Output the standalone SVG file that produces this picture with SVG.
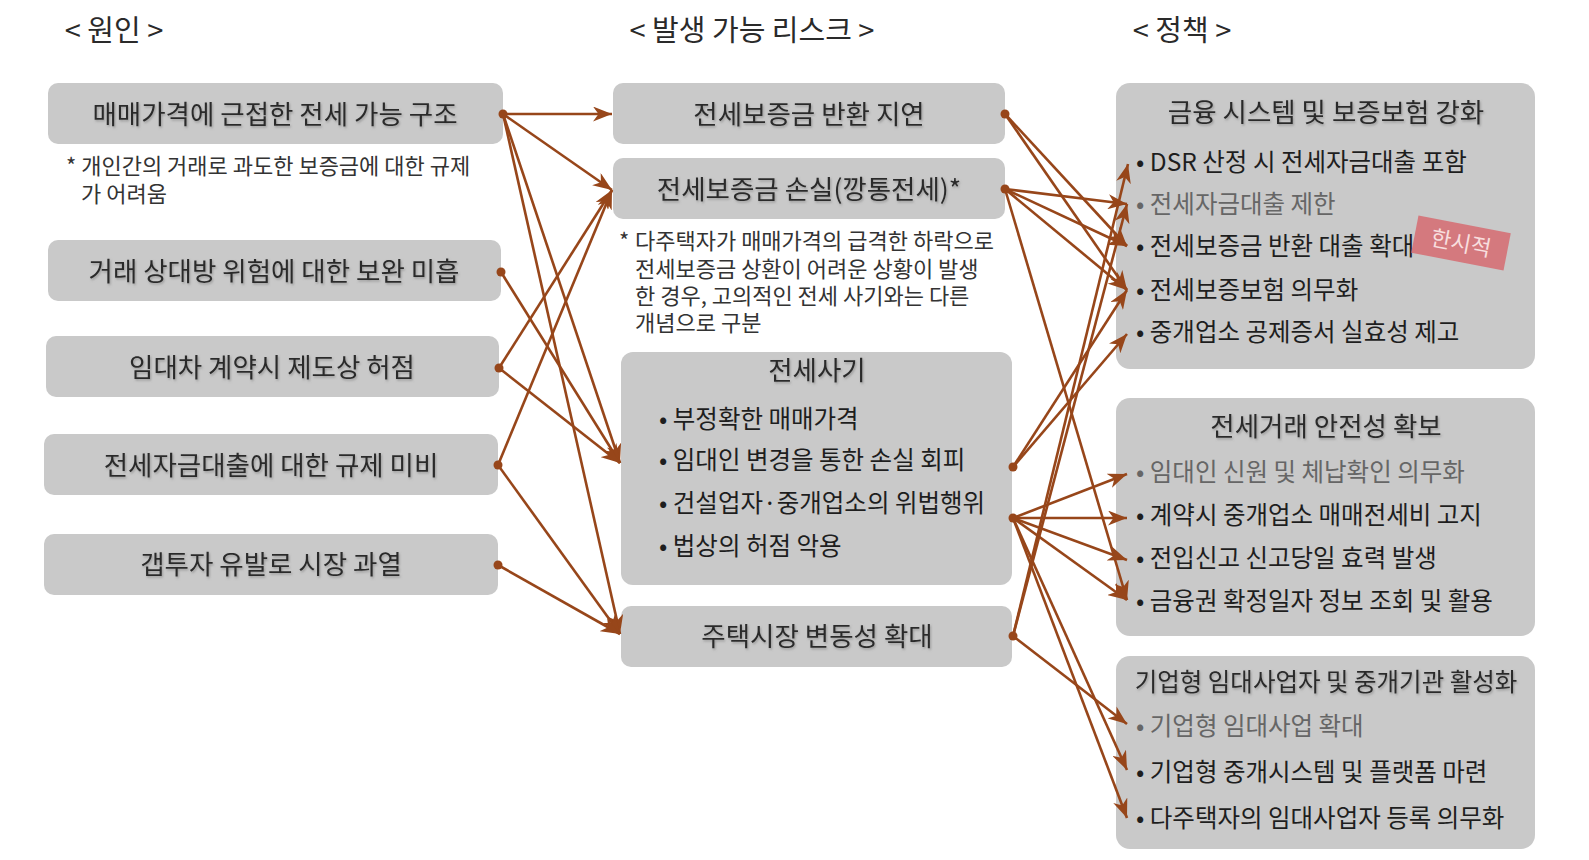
<svg xmlns="http://www.w3.org/2000/svg" width="1589" height="860" viewBox="0 0 1589 860">
<style>
.bg{fill:#ffffff}
.box{fill:#c9c9c9}
.hd{font-family:"Noto Sans CJK KR","Noto Sans",sans-serif;font-size:29px;fill:#2a2a2a;text-anchor:middle}
.bt{font-family:"Noto Sans CJK KR","Noto Sans",sans-serif;font-size:26.5px;fill:#2a2a2a;text-anchor:middle;filter:url(#sh)}
.ti{font-family:"Noto Sans CJK KR","Noto Sans",sans-serif;font-size:26.5px;fill:#2a2a2a;text-anchor:middle;filter:url(#sh)}
.li{font-family:"Noto Sans CJK KR","Noto Sans",sans-serif;font-size:24.5px;fill:#1e1e1e}
.lg{font-family:"Noto Sans CJK KR","Noto Sans",sans-serif;font-size:24.5px;fill:#666}
.nt{font-family:"Noto Sans CJK KR","Noto Sans",sans-serif;font-size:22px;fill:#333}
.cn{stroke:#97461a;stroke-width:2.6;fill:none;marker-end:url(#ah)}
.dt{fill:#97461a}
</style>
<defs>
<marker id="ah" markerUnits="userSpaceOnUse" markerWidth="20" markerHeight="15" refX="19" refY="7.5" orient="auto">
<path d="M0,0 L19,7.5 L0,15 L5.5,7.5 z" fill="#97461a"/>
</marker>
<filter id="sh" x="-5%" y="-20%" width="110%" height="140%">
<feDropShadow dx="1" dy="1.5" stdDeviation="1" flood-color="#777" flood-opacity="0.6"/>
</filter>
</defs>
<rect class="bg" x="0" y="0" width="1589" height="860"/>

<g id="headers">
<text class="hd" x="114" y="41">&lt; 원인 &gt;</text>
<text class="hd" x="752" y="41">&lt; 발생 가능 리스크 &gt;</text>
<text class="hd" x="1182" y="41">&lt; 정책 &gt;</text>
</g>

<g id="cause1">
<rect class="box" x="48" y="83" width="455" height="61" rx="10"/>
<text class="bt" x="275" y="124">매매가격에 근접한 전세 가능 구조</text>
<text class="nt" x="66" y="174">* 개인간의 거래로 과도한 보증금에 대한 규제</text>
<text class="nt" x="81" y="202">가 어려움</text>
</g>
<g id="cause2">
<rect class="box" x="48" y="240" width="453" height="61" rx="10"/>
<text class="bt" x="274" y="281">거래 상대방 위험에 대한 보완 미흡</text>
</g>
<g id="cause3">
<rect class="box" x="46" y="336" width="453" height="61" rx="10"/>
<text class="bt" x="272" y="377">임대차 계약시 제도상 허점</text>
</g>
<g id="cause4">
<rect class="box" x="44" y="434" width="454" height="61" rx="10"/>
<text class="bt" x="271" y="475">전세자금대출에 대한 규제 미비</text>
</g>
<g id="cause5">
<rect class="box" x="44" y="534" width="454" height="61" rx="10"/>
<text class="bt" x="271" y="574">갭투자 유발로 시장 과열</text>
</g>

<g id="riskA">
<rect class="box" x="613" y="83" width="392" height="61" rx="10"/>
<text class="bt" x="809" y="124">전세보증금 반환 지연</text>
</g>
<g id="riskB">
<rect class="box" x="613" y="158" width="392" height="61" rx="10"/>
<text class="bt" x="809" y="199">전세보증금 손실(깡통전세)*</text>
<text class="nt" x="619" y="249">*</text>
<text class="nt" x="635" y="249">다주택자가 매매가격의 급격한 하락으로</text>
<text class="nt" x="635" y="277">전세보증금 상환이 어려운 상황이 발생</text>
<text class="nt" x="635" y="304">한 경우, 고의적인 전세 사기와는 다른</text>
<text class="nt" x="635" y="331">개념으로 구분</text>
</g>
<g id="riskC">
<rect class="box" x="621" y="352" width="391" height="233" rx="12"/>
<text class="bt" x="817" y="380">전세사기</text>
<text class="li" x="659" y="428">• 부정확한 매매가격</text>
<text class="li" x="659" y="469">• 임대인 변경을 통한 손실 회피</text>
<text class="li" x="659" y="512">• 건설업자·중개업소의 위법행위</text>
<text class="li" x="659" y="555">• 법상의 허점 악용</text>
</g>
<g id="riskD">
<rect class="box" x="621" y="606" width="391" height="61" rx="10"/>
<text class="bt" x="817" y="646">주택시장 변동성 확대</text>
</g>

<g id="policy1">
<rect class="box" x="1116" y="83" width="419" height="286" rx="14"/>
<text class="ti" x="1326" y="122">금융 시스템 및 보증보험 강화</text>
<text class="li" x="1136" y="171">• DSR 산정 시 전세자금대출 포함</text>
<text class="lg" x="1136" y="213">• 전세자금대출 제한</text>
<text class="li" x="1136" y="255">• 전세보증금 반환 대출 확대</text>
<text class="li" x="1136" y="299">• 전세보증보험 의무화</text>
<text class="li" x="1136" y="341">• 중개업소 공제증서 실효성 제고</text>
<g transform="translate(1461,243) rotate(11)">
<rect x="-47" y="-19" width="94" height="38" fill="#d4797e"/>
<text x="0" y="8" font-family="'Noto Sans CJK KR',sans-serif" font-size="22" fill="#f8dede" text-anchor="middle">한시적</text>
</g>
</g>
<g id="policy2">
<rect class="box" x="1116" y="398" width="419" height="238" rx="14"/>
<text class="ti" x="1326" y="436">전세거래 안전성 확보</text>
<text class="lg" x="1136" y="481">• 임대인 신원 및 체납확인 의무화</text>
<text class="li" x="1136" y="524">• 계약시 중개업소 매매전세비 고지</text>
<text class="li" x="1136" y="567">• 전입신고 신고당일 효력 발생</text>
<text class="li" x="1136" y="610">• 금융권 확정일자 정보 조회 및 활용</text>
</g>
<g id="policy3">
<rect class="box" x="1116" y="656" width="419" height="193" rx="14"/>
<text class="ti" x="1326" y="691" style="font-size:24.5px">기업형 임대사업자 및 중개기관 활성화</text>
<text class="lg" x="1136" y="735">• 기업형 임대사업 확대</text>
<text class="li" x="1136" y="781">• 기업형 중개시스템 및 플랫폼 마련</text>
<text class="li" x="1136" y="827">• 다주택자의 임대사업자 등록 의무화</text>
</g>

<g id="connectors">
<line class="cn" x1="503" y1="114" x2="612" y2="114"/>
<line class="cn" x1="503" y1="114" x2="612" y2="190"/>
<line class="cn" x1="503" y1="114" x2="620" y2="463"/>
<line class="cn" x1="503" y1="114" x2="620" y2="634"/>
<line class="cn" x1="501" y1="272" x2="620" y2="463"/>
<line class="cn" x1="499" y1="368" x2="612" y2="190"/>
<line class="cn" x1="499" y1="368" x2="620" y2="463"/>
<line class="cn" x1="498" y1="465" x2="612" y2="190"/>
<line class="cn" x1="498" y1="465" x2="620" y2="634"/>
<line class="cn" x1="498" y1="565" x2="620" y2="634"/>

<line class="cn" x1="1005" y1="114" x2="1127" y2="246"/>
<line class="cn" x1="1005" y1="114" x2="1127" y2="290"/>
<line class="cn" x1="1005" y1="189" x2="1127" y2="204"/>
<line class="cn" x1="1005" y1="189" x2="1127" y2="246"/>
<line class="cn" x1="1005" y1="189" x2="1127" y2="290"/>
<line class="cn" x1="1005" y1="189" x2="1127" y2="600"/>
<line class="cn" x1="1013" y1="467" x2="1127" y2="290"/>
<line class="cn" x1="1013" y1="467" x2="1127" y2="334"/>
<line class="cn" x1="1013" y1="518" x2="1127" y2="474"/>
<line class="cn" x1="1013" y1="518" x2="1127" y2="518"/>
<line class="cn" x1="1013" y1="518" x2="1127" y2="560"/>
<line class="cn" x1="1013" y1="518" x2="1127" y2="600"/>
<line class="cn" x1="1013" y1="518" x2="1127" y2="770"/>
<line class="cn" x1="1013" y1="518" x2="1127" y2="818"/>
<line class="cn" x1="1013" y1="636" x2="1128" y2="164"/>
<line class="cn" x1="1013" y1="636" x2="1127" y2="204"/>
<line class="cn" x1="1013" y1="636" x2="1127" y2="724"/>

<circle class="dt" cx="503" cy="114" r="4.5"/>
<circle class="dt" cx="501" cy="272" r="4.5"/>
<circle class="dt" cx="499" cy="368" r="4.5"/>
<circle class="dt" cx="498" cy="465" r="4.5"/>
<circle class="dt" cx="498" cy="565" r="4.5"/>
<circle class="dt" cx="1005" cy="114" r="4.5"/>
<circle class="dt" cx="1005" cy="189" r="4.5"/>
<circle class="dt" cx="1013" cy="467" r="4.5"/>
<circle class="dt" cx="1013" cy="518" r="4.5"/>
<circle class="dt" cx="1013" cy="636" r="4.5"/>
</g>
</svg>
